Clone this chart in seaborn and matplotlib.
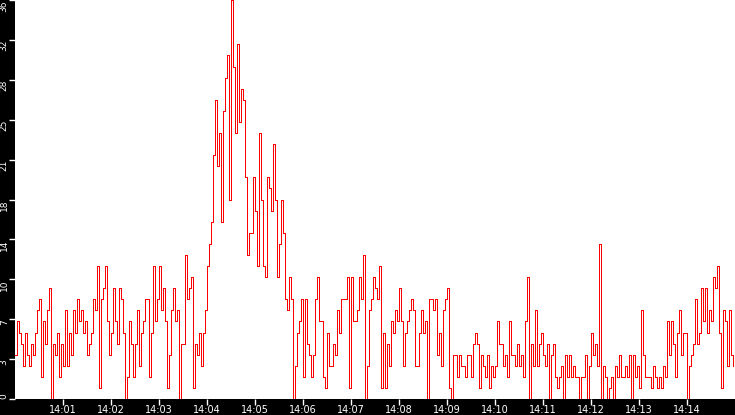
"""
Requests per sample, 14:00-14:15, drawn as a red step line on a white plot
with a black frame strip for the ticks.
"""
import numpy as np
import pandas as pd
import matplotlib
matplotlib.use("Agg")
import matplotlib.pyplot as plt
import seaborn as sns

SAMPLE_SECONDS = 2.5  # one reading every 2.5 s

# readings, split by stretch of the window
counts_1400_1403 = [
    4, 7, 6, 5, 3, 6, 4, 3, 5, 4,
    6, 8, 9, 2, 7, 5, 8, 10, 0, 5,
    4, 6, 2, 5, 3, 8, 3, 6, 4, 8,
    6, 9, 7, 8, 6, 7, 4, 5, 6, 9,
    8, 12, 1, 9, 10, 12, 7, 4, 6, 10,
    7, 5, 10, 9, 6, 0, 2, 7, 5, 2,
    5, 8, 3, 6, 7, 9, 9, 2, 6, 12,
    7, 9, 12, 8, 10, 7, 1, 4, 8, 10,
    7, 8, 0, 5, 5, 13, 9, 10, 11, 1,
]
counts_burst = [
    5, 4, 6, 3, 6, 8, 12, 14, 16, 22,
    27, 21, 24, 16, 26, 29, 31, 18, 36, 30,
    24, 32, 25, 28, 27, 20, 13, 15, 15, 20,
    17, 12, 24, 18, 12, 11, 20, 19, 17, 23,
    18, 11, 14, 18, 15, 9, 8, 11, 9, 0,
    3, 6, 7, 9, 2, 9,
]
counts_1406_1410 = [
    5, 4, 2, 4, 9, 11, 7, 7, 2, 1,
    6, 3, 3, 5, 4, 8, 6, 9, 9, 9,
    11, 1, 11, 7, 7, 8, 11, 9, 13, 0,
    3, 8, 9, 11, 10, 9, 12, 1, 6, 1,
    5, 3, 7, 6, 8, 7, 10, 7, 3, 6,
    7, 8, 9, 8, 3, 3, 6, 8, 6, 7,
    0, 9, 9, 8, 9, 4, 6, 3, 8, 9,
    10, 1, 0, 4, 4, 2, 4, 3, 3, 2,
    4, 4, 2, 5, 6, 5, 1,
]
counts_1410_1413 = [
    4, 3, 2, 4, 1, 3, 2, 3, 7, 5,
    5, 3, 4, 2, 7, 4, 4, 3, 5, 3,
    4, 2, 7, 11, 0, 5, 3, 8, 3, 5,
    6, 4, 3, 5, 0, 4, 5, 2, 1, 2,
    3, 0, 4, 2, 4, 2, 3, 2, 2, 0,
    2, 2, 4, 0, 3, 6, 4, 5, 3, 14,
    0, 3, 2, 0, 1, 2, 0, 3, 2, 4,
    2, 2, 3, 2, 4, 0, 4, 2, 3, 1,
    8, 4, 2, 2, 2, 1, 3,
]
counts_1413_1415 = [
    2, 1, 2, 1, 3, 2, 7, 4, 7, 5,
    2, 6, 8, 4, 6, 6, 0, 3, 4, 5,
    9, 5, 6, 10, 7, 10, 6, 8, 7, 11,
    10, 12, 6, 1, 8, 7, 3, 8, 4, 3,
]

minute_ticks = [60 * m for m in range(1, 15)]
minute_labels = [f"14:{m:02d}" for m in range(1, 15)]
y_ticks = [3.6 * k for k in range(11)]
y_labels = ["0", "3", "7", "10", "14", "18", "21", "25", "28", "32", "36"]

counts = (counts_1400_1403 + counts_burst + counts_1406_1410
          + counts_1410_1413 + counts_1413_1415)
df = pd.DataFrame({
    "sec": np.arange(len(counts)) * SAMPLE_SECONDS,
    "count": counts,
})

sns.set_theme(style="white")
plt.rcParams["font.family"] = ["DejaVu Sans"]

W, H = 735, 415
fig = plt.figure(figsize=(W / 100, H / 100), dpi=100, facecolor="black")
ax = fig.add_axes([15 / W, 16 / H, 720 / W, 399 / H])
ax.set_facecolor("white")

# 1 px hard-edged red line, like the original
sns.lineplot(data=df, x="sec", y="count", ax=ax, color="#ff0000", lw=0.72,
             drawstyle="steps-post", estimator=None, antialiased=False)

ax.set_xlim(0, 900)
ax.set_ylim(0, 36)
ax.set_xlabel("")
ax.set_ylabel("")
for s in ax.spines.values():
    s.set_visible(False)

ax.set_xticks(minute_ticks)
ax.set_xticklabels(minute_labels)
ax.tick_params(axis="x", colors="white", length=4, width=1, pad=0.5,
               labelsize=7, bottom=True, direction="out")

ax.set_yticks(y_ticks)
ax.set_yticklabels(y_labels)
ax.tick_params(axis="y", colors="white", length=4, width=1, pad=0.5,
               labelsize=6.5, left=True, direction="out", labelrotation=90)
for lab in ax.get_yticklabels():
    lab.set_va("bottom" if lab.get_text() == "0" else "top")

fig.savefig("out.png", dpi=100, facecolor="black")
